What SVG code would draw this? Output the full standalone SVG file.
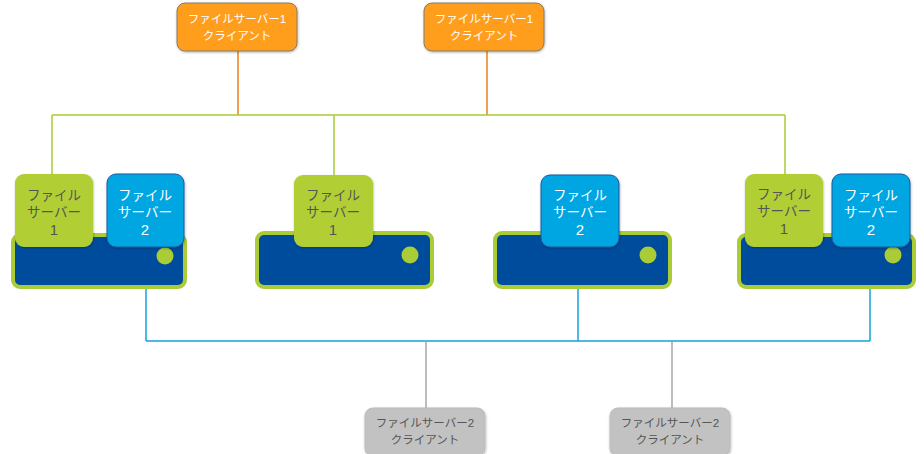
<svg xmlns="http://www.w3.org/2000/svg" width="924" height="454" viewBox="0 0 924 454">
<defs>
<filter id="sh" x="-10%" y="-10%" width="130%" height="130%">
<feDropShadow dx="0.5" dy="1" stdDeviation="1" flood-color="#000" flood-opacity="0.3"/>
</filter>
<style>
.t{font-family:"Liberation Sans","Noto Sans CJK JP","Noto Sans CJK SC",sans-serif;text-anchor:middle}
.ot{font-size:11.5px;fill:#fff}
.gt{font-size:11.5px;fill:#555}
.nt{font-size:13.5px}
.dg{font-size:15px}
.orange{fill:#FF9E1B;stroke:#8a7a66;stroke-width:1;filter:url(#sh)}
.grayb{fill:#C2C2C2;stroke:#bbb;stroke-width:1;filter:url(#sh)}
.base{fill:#004C9C;stroke:#A9CC37;stroke-width:4}
.gbox{fill:#B1CF35;filter:url(#sh)}
.bbox{fill:#00A6E2;stroke:#1c5aa0;stroke-width:1;filter:url(#sh)}
.dot{fill:#A9CC37}
.lo{stroke:#F0A050;stroke-width:2;fill:none}
.lg{stroke:#A9CC37;stroke-width:1.5;fill:none}
.lb{stroke:#13A4DC;stroke-width:1.5;fill:none}
.lgr{stroke:#BDBDBD;stroke-width:2;fill:none}
</style>
</defs>
<g id="connectors">
<path class="lo" d="M238 51V115M487 51V115"/>
<path class="lg" d="M52 115H785M52 115V175M334 115V175M785 115V175"/>
<path class="lb" d="M146 247V341M578 247V341M870 247V341M146 341H870"/>
<path class="lgr" d="M426 342V408M672 342V408"/>
</g>
<g id="client1a">
<rect class="orange" x="177" y="3" width="120" height="48" rx="8"/>
<text class="t ot" x="237" y="23">ファイルサーバー1</text>
<text class="t ot" x="237" y="40">クライアント</text>
</g>
<g id="client1b">
<rect class="orange" x="424" y="3" width="120" height="48" rx="8"/>
<text class="t ot" x="484" y="23">ファイルサーバー1</text>
<text class="t ot" x="484" y="40">クライアント</text>
</g>
<g id="server-a">
<rect class="base" x="13" y="235" width="172" height="52" rx="7"/>
<circle class="dot" cx="165" cy="256" r="8.5"/>
<rect class="gbox" x="15" y="174" width="78" height="73" rx="9"/>
<text class="t nt" fill="#555" x="54" y="200">ファイル</text>
<text class="t nt" fill="#555" x="54" y="217">サーバー</text>
<text class="t dg" fill="#555" x="54" y="235">1</text>
<rect class="bbox" x="107" y="174" width="77" height="73" rx="9"/>
<text class="t nt" fill="#fff" x="145" y="200">ファイル</text>
<text class="t nt" fill="#fff" x="145" y="217">サーバー</text>
<text class="t dg" fill="#fff" x="145" y="235">2</text>
</g>
<g id="server-b">
<rect class="base" x="257" y="233" width="175" height="54" rx="7"/>
<circle class="dot" cx="410" cy="255" r="8.5"/>
<rect class="gbox" x="294" y="175" width="79" height="72" rx="9"/>
<text class="t nt" fill="#555" x="333" y="200">ファイル</text>
<text class="t nt" fill="#555" x="333" y="217">サーバー</text>
<text class="t dg" fill="#555" x="333" y="235">1</text>
</g>
<g id="server-c">
<rect class="base" x="495" y="233" width="175" height="54" rx="7"/>
<circle class="dot" cx="648" cy="255" r="8.5"/>
<rect class="bbox" x="541" y="175" width="78" height="72" rx="9"/>
<text class="t nt" fill="#fff" x="580" y="200">ファイル</text>
<text class="t nt" fill="#fff" x="580" y="217">サーバー</text>
<text class="t dg" fill="#fff" x="580" y="235">2</text>
</g>
<g id="server-d">
<rect class="base" x="739" y="235" width="175" height="52" rx="7"/>
<circle class="dot" cx="893" cy="255" r="8.5"/>
<rect class="gbox" x="745" y="174" width="78" height="73" rx="9"/>
<text class="t nt" fill="#555" x="784" y="199">ファイル</text>
<text class="t nt" fill="#555" x="784" y="216">サーバー</text>
<text class="t dg" fill="#555" x="784" y="234">1</text>
<rect class="bbox" x="832" y="174" width="78" height="73" rx="9"/>
<text class="t nt" fill="#fff" x="871" y="200">ファイル</text>
<text class="t nt" fill="#fff" x="871" y="217">サーバー</text>
<text class="t dg" fill="#fff" x="871" y="235">2</text>
</g>
<g id="client2a">
<rect class="grayb" x="365" y="408" width="120" height="48" rx="8"/>
<text class="t gt" x="425" y="427">ファイルサーバー2</text>
<text class="t gt" x="425" y="444">クライアント</text>
</g>
<g id="client2b">
<rect class="grayb" x="610" y="408" width="120" height="48" rx="8"/>
<text class="t gt" x="670" y="427">ファイルサーバー2</text>
<text class="t gt" x="670" y="444">クライアント</text>
</g>
</svg>
